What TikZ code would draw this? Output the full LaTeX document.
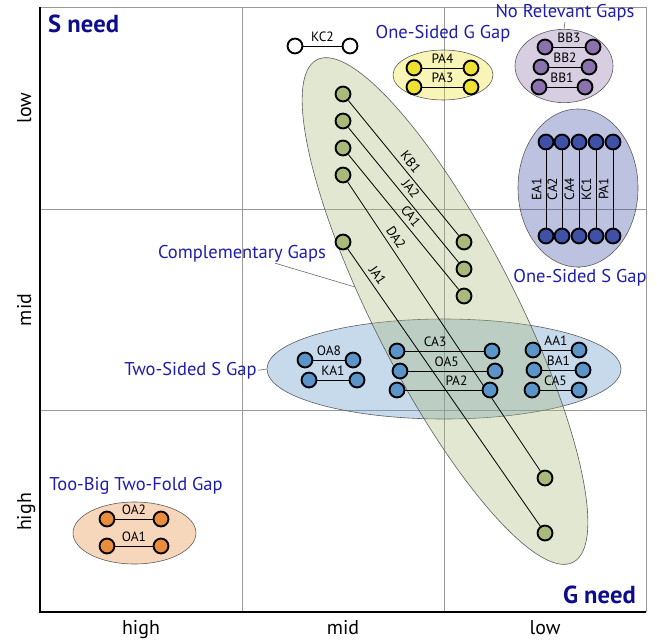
\documentclass[tikz,border=0pt]{standalone}
\usepackage{fontspec}
\setmainfont{PT Sans}
\usetikzlibrary{shapes.geometric}
\definecolor{cgreen}{HTML}{A9B97A}
\definecolor{cblue}{HTML}{3F51A6}
\definecolor{cpurple}{HTML}{8B72AD}
\definecolor{cyellow}{HTML}{EDE232}
\definecolor{clblue}{HTML}{5B94C9}
\definecolor{corange}{HTML}{E98C3C}
\definecolor{labblue}{HTML}{1E1EAA}
\definecolor{needblue}{HTML}{0C0C8C}
\pgfdeclarelayer{back}
\pgfdeclarelayer{mid}
\pgfsetlayers{back,mid,main}
\begin{document}
\begin{tikzpicture}[x=0.03cm,y=-0.03cm,
 gridl/.style={draw=black!40, line width=0.6pt},
 axisl/.style={draw=black, line width=1.4pt},
 gap/.style={ellipse, draw=black!65, line width=0.5pt, fill opacity=0.35, inner sep=0pt},
 pnt/.style={circle, draw=black, line width=1.6pt, minimum size=12.7pt, inner sep=0pt, fill=#1},
 lnk/.style={draw=black, line width=0.7pt},
 lbl/.style={font=\fontsize{11.5}{11.5}\selectfont, inner sep=1pt, above=2.6pt},
 gaplbl/.style={font=\fontsize{15.8}{15.8}\selectfont, text=labblue, inner sep=1pt},
 axlbl/.style={font=\fontsize{17}{17}\selectfont, inner sep=0pt, anchor=base},
 need/.style={font=\fontsize{21}{21}\selectfont\bfseries, text=needblue, inner sep=0pt},
 conn/.style={draw=black!60, line width=0.5pt}
]
\useasboundingbox (0,0) rectangle (657,642);

% grid, axes and gap ellipses
\begin{pgfonlayer}{back}
\draw[gridl] (40,7) -- (646,7) -- (646,612);
\draw[gridl] (242,7) -- (242,612);
\draw[gridl] (444,7) -- (444,612);
\draw[gridl] (40,209) -- (646,209);
\draw[gridl] (40,410) -- (646,410);
\draw[axisl] (40,7) -- (40,612) -- (646,612);

\node[gap, fill=cblue, minimum width=3.6cm, minimum height=4.74cm] (sgap) at (578,188) {};
\node[gap, fill=cpurple, minimum width=2.94cm, minimum height=2.2cm] (nrgap) at (564,66) {};
\node[gap, fill=cyellow, minimum width=3.0cm, minimum height=1.5cm] (ggap) at (443,75) {};
\node[gap, fill=corange, minimum width=3.69cm, minimum height=1.86cm] (tbgap) at (134.5,533) {};
\node[gap, fill=clblue, minimum width=10.62cm, minimum height=3.0cm] (tsgap) at (444,369) {};
\node[gap, fill=cgreen, minimum width=16.92cm, minimum height=4.26cm, rotate=-63] (cgap) at (445,311) {};
\end{pgfonlayer}

% axis labels
\node[axlbl] (xh) at (141,634) {high};
\node[axlbl] (xm) at (343,634) {mid};
\node[axlbl] (xl) at (545,634) {low};
\node[axlbl, rotate=90] (yl) at (31,108) {low};
\node[axlbl, rotate=90] (ym) at (31,310) {mid};
\node[axlbl, rotate=90] (yh) at (31,512) {high};
\node[need, anchor=base west] (sneed) at (48,32) {S need};
\node[need, anchor=base east] (gneed) at (636,603) {G need};

% gap labels
\node[gaplbl, anchor=base] (lg) at (443,38) {One-Sided G Gap};
\node[gaplbl, anchor=base] (lnr) at (565,17) {No Relevant Gaps};
\node[gaplbl, anchor=base] (ls) at (580,282) {One-Sided S Gap};
\node[gaplbl, anchor=base east] (lts) at (258,375) {Two-Sided S Gap};
\node[gaplbl, anchor=base] (lc) at (242,258) {Complementary Gaps};
\node[gaplbl, anchor=base west] (ltb) at (48,490) {Too-Big Two-Fold Gap};
\coordinate (cgp) at (355,287);

% points
\node[pnt=white] (kc2a) at (295,46) {};
\node[pnt=white] (kc2b) at (350,46) {};
\node[pnt=cyellow] (pa4a) at (414,68) {};
\node[pnt=cyellow] (pa4b) at (471,68) {};
\node[pnt=cyellow] (pa3a) at (414,87) {};
\node[pnt=cyellow] (pa3b) at (471,87) {};
\node[pnt=cpurple] (bb3a) at (545,47) {};
\node[pnt=cpurple] (bb3b) at (593,47) {};
\node[pnt=cpurple] (bb2a) at (541,67) {};
\node[pnt=cpurple] (bb2b) at (589,67) {};
\node[pnt=cpurple] (bb1a) at (539,87) {};
\node[pnt=cpurple] (bb1b) at (585,87) {};
\node[pnt=cblue] (ea1t) at (546,142) {};
\node[pnt=cblue] (ca2t) at (562,142) {};
\node[pnt=cblue] (ca4t) at (579,142) {};
\node[pnt=cblue] (kc1t) at (596,142) {};
\node[pnt=cblue] (pa1t) at (613,142) {};
\node[pnt=cblue] (ea1b) at (546,236) {};
\node[pnt=cblue] (ca2b) at (562,236) {};
\node[pnt=cblue] (ca4b) at (579,236) {};
\node[pnt=cblue] (kc1b) at (596,236) {};
\node[pnt=cblue] (pa1b) at (613,236) {};
\node[pnt=cgreen] (g1) at (343,94) {};
\node[pnt=cgreen] (g2) at (343,121) {};
\node[pnt=cgreen] (g3) at (343,148) {};
\node[pnt=cgreen] (g4) at (343,175) {};
\node[pnt=cgreen] (g5) at (343,242) {};
\node[pnt=cgreen] (h1) at (464,242) {};
\node[pnt=cgreen] (h2) at (464,269) {};
\node[pnt=cgreen] (h3) at (464,296) {};
\node[pnt=cgreen] (h4) at (545,478) {};
\node[pnt=cgreen] (h5) at (545,533) {};
\node[pnt=clblue] (oa8a) at (305,360) {};
\node[pnt=clblue] (oa8b) at (353,360) {};
\node[pnt=clblue] (ka1a) at (309,380) {};
\node[pnt=clblue] (ka1b) at (357,380) {};
\node[pnt=clblue] (ca3a) at (397,351) {};
\node[pnt=clblue] (ca3b) at (492,351) {};
\node[pnt=clblue] (oa5a) at (400,371) {};
\node[pnt=clblue] (oa5b) at (495,371) {};
\node[pnt=clblue] (pa2a) at (397,390) {};
\node[pnt=clblue] (pa2b) at (490,390) {};
\node[pnt=clblue] (aa1a) at (533,350) {};
\node[pnt=clblue] (aa1b) at (579,350) {};
\node[pnt=clblue] (ba1a) at (534,370) {};
\node[pnt=clblue] (ba1b) at (583,370) {};
\node[pnt=clblue] (ca5a) at (532,390) {};
\node[pnt=clblue] (ca5b) at (579,390) {};
\node[pnt=corange] (oa2a) at (107,519) {};
\node[pnt=corange] (oa2b) at (161,519) {};
\node[pnt=corange] (oa1a) at (107,546) {};
\node[pnt=corange] (oa1b) at (161,546) {};

\begin{pgfonlayer}{mid}
% label connectors
\draw[conn] (nrgap.north) -- (lnr.south);
\draw[conn] (sgap.south) -- (ls.north);
\draw[conn] (tsgap.west) -- (lts.east);
\draw[conn] (cgp) -- (lc);
% links
\draw[lnk] (kc2a) -- node[lbl]{KC2} (kc2b);
\draw[lnk] (pa4a) -- node[lbl]{PA4} (pa4b);
\draw[lnk] (pa3a) -- node[lbl]{PA3} (pa3b);
\draw[lnk] (bb3a) -- node[lbl]{BB3} (bb3b);
\draw[lnk] (bb2a) -- node[lbl]{BB2} (bb2b);
\draw[lnk] (bb1a) -- node[lbl]{BB1} (bb1b);
\draw[lnk] (ea1b) -- node[lbl,sloped]{EA1} (ea1t);
\draw[lnk] (ca2b) -- node[lbl,sloped]{CA2} (ca2t);
\draw[lnk] (ca4b) -- node[lbl,sloped]{CA4} (ca4t);
\draw[lnk] (kc1b) -- node[lbl,sloped]{KC1} (kc1t);
\draw[lnk] (pa1b) -- node[lbl,sloped]{PA1} (pa1t);
\draw[lnk] (g1) -- node[lbl,sloped,pos=0.5]{KB1} (h1);
\draw[lnk] (g2) -- node[lbl,sloped,pos=0.5]{JA2} (h2);
\draw[lnk] (g3) -- node[lbl,sloped,pos=0.5]{CA1} (h3);
\draw[lnk] (g4) -- node[lbl,sloped,pos=0.21]{DA2} (h4);
\draw[lnk] (g5) -- node[lbl,sloped,pos=0.115]{JA1} (h5);
\draw[lnk] (oa8a) -- node[lbl]{OA8} (oa8b);
\draw[lnk] (ka1a) -- node[lbl]{KA1} (ka1b);
\draw[lnk] (ca3a) -- node[lbl,pos=0.38]{CA3} (ca3b);
\draw[lnk] (oa5a) -- node[lbl,pos=0.49]{OA5} (oa5b);
\draw[lnk] (pa2a) -- node[lbl,pos=0.67]{PA2} (pa2b);
\draw[lnk] (aa1a) -- node[lbl]{AA1} (aa1b);
\draw[lnk] (ba1a) -- node[lbl]{BA1} (ba1b);
\draw[lnk] (ca5a) -- node[lbl]{CA5} (ca5b);
\draw[lnk] (oa2a) -- node[lbl]{OA2} (oa2b);
\draw[lnk] (oa1a) -- node[lbl]{OA1} (oa1b);
\end{pgfonlayer}
\end{tikzpicture}
\end{document}
